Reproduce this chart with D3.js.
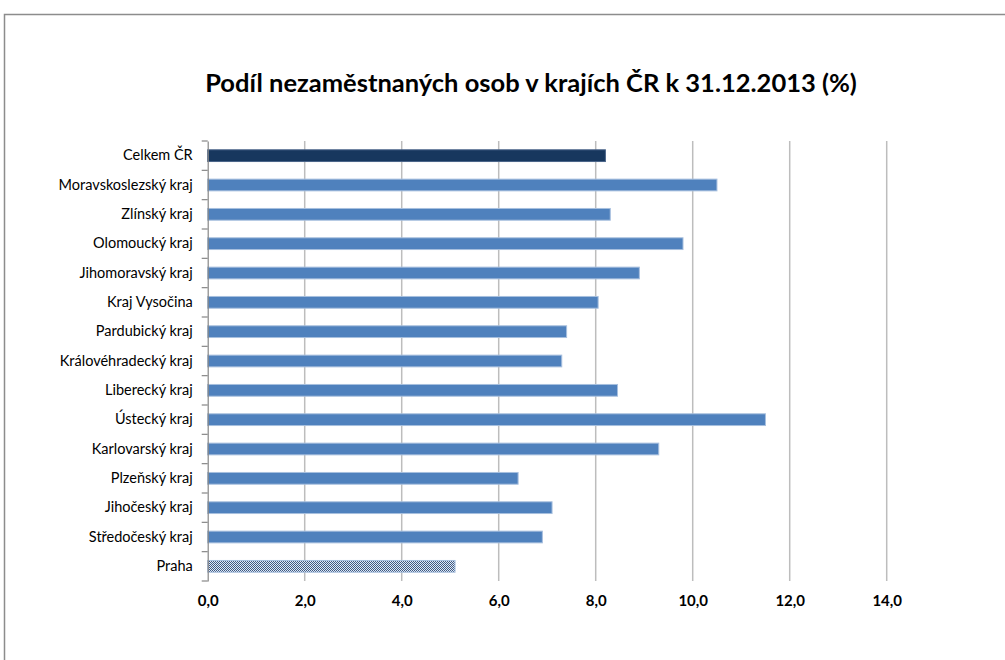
<!DOCTYPE html>
<html>
<head>
<meta charset="utf-8">
<script src="https://cdn.jsdelivr.net/npm/d3@7"></script>
<style>
  body { margin: 0; background: #fff; }
  svg { display: block; }
</style>
</head>
<body>
<svg width="1005" height="660"></svg>
<script>
// regions from top to bottom, as shown in the chart
const regions = [
  "Celkem ČR",
  "Moravskoslezský kraj",
  "Zlínský kraj",
  "Olomoucký kraj",
  "Jihomoravský kraj",
  "Kraj Vysočina",
  "Pardubický kraj",
  "Královéhradecký kraj",
  "Liberecký kraj",
  "Ústecký kraj",
  "Karlovarský kraj",
  "Plzeňský kraj",
  "Jihočeský kraj",
  "Středočeský kraj",
  "Praha",
];

// share of unemployed persons (%)
const shares = [8.2, 10.5, 8.3, 9.8, 8.9, 8.05, 7.4, 7.3, 8.45, 11.5, 9.3, 6.4, 7.1, 6.9, 5.1];

const xTicks = [0, 2, 4, 6, 8, 10, 12, 14];

const data = regions.map((r, i) => ({ name: r, value: shares[i] }));

const svg = d3.select("svg");

// chart frame
svg.append("rect")
  .attr("x", 4.5)
  .attr("y", 14.5)
  .attr("width", 1010)
  .attr("height", 660)
  .attr("fill", "none")
  .attr("stroke", "#8c8c8c")
  .attr("stroke-width", 1.5);

// checker pattern for Praha
const defs = svg.append("defs");
const pat = defs.append("pattern")
  .attr("id", "checker")
  .attr("width", 2)
  .attr("height", 2)
  .attr("patternUnits", "userSpaceOnUse");
pat.append("rect").attr("width", 2).attr("height", 2).attr("fill", "#e4e9f1");
pat.append("rect").attr("width", 1).attr("height", 1).attr("fill", "#3b5a86");
pat.append("rect").attr("x", 1).attr("y", 1).attr("width", 1).attr("height", 1).attr("fill", "#3b5a86");

const x = d3.scaleLinear().domain([0, 14]).range([207.7, 886.7]);
const y = d3.scaleBand().domain(regions).range([141, 581]).paddingInner(0.6).paddingOuter(0.3);

// title
svg.append("text")
  .attr("x", 531)
  .attr("y", 92)
  .attr("text-anchor", "middle")
  .attr("font-family", "Lato, 'Open Sans', sans-serif")
  .attr("font-weight", "bold")
  .attr("font-size", "25.5px")
  .attr("fill", "#000")
  .text("Podíl nezaměstnaných osob v krajích ČR k 31.12.2013 (%)");

// vertical gridlines
svg.append("g")
  .selectAll("line")
  .data(xTicks.filter((t) => t > 0))
  .enter()
  .append("line")
  .attr("x1", (d) => x(d))
  .attr("x2", (d) => x(d))
  .attr("y1", 141)
  .attr("y2", 581)
  .attr("stroke", "#bdbdbd")
  .attr("stroke-width", 1.5);

// bars
svg.append("g")
  .selectAll("rect")
  .data(data)
  .enter()
  .append("rect")
  .attr("x", x(0))
  .attr("y", (d) => y(d.name))
  .attr("width", (d) => x(d.value) - x(0))
  .attr("height", y.bandwidth())
  .attr("fill", (d, i) => (i === 0 ? "#17375e" : d.name === "Praha" ? "url(#checker)" : "#4f81bd"))
  .attr("stroke", (d, i) => (i === 0 ? "#4a6489" : "#a7bfde"))
  .attr("stroke-width", 1);

// category axis
const yAxis = d3.axisLeft(y).tickSize(0).tickPadding(15);
const yG = svg.append("g").attr("transform", `translate(${x(0)},0)`).call(yAxis);
yG.select(".domain").attr("stroke", "#868686").attr("stroke-width", 1.2);
yG.selectAll("text")
  .attr("font-family", "Lato, 'Open Sans', sans-serif")
  .attr("font-size", "14.5px")
  .attr("fill", "#000");

// category boundary ticks
const bounds = d3.range(regions.length + 1).map((i) => 141 + (i * 440) / regions.length);
svg.append("g")
  .selectAll("line")
  .data(bounds)
  .enter()
  .append("line")
  .attr("x1", x(0) - 6)
  .attr("x2", x(0))
  .attr("y1", (d) => d)
  .attr("y2", (d) => d)
  .attr("stroke", "#868686")
  .attr("stroke-width", 1.2);

// value axis labels
const xAxis = d3.axisBottom(x)
  .tickValues(xTicks)
  .tickSize(0)
  .tickPadding(14)
  .tickFormat((d) => d3.format(".1f")(d).replace(".", ","));
const xG = svg.append("g").attr("transform", "translate(0,581)").call(xAxis);
xG.select(".domain").remove();
xG.selectAll("text")
  .attr("font-family", "Lato, 'Open Sans', sans-serif")
  .attr("font-weight", "bold")
  .attr("font-size", "15px")
  .attr("fill", "#000");
</script>
</body>
</html>
